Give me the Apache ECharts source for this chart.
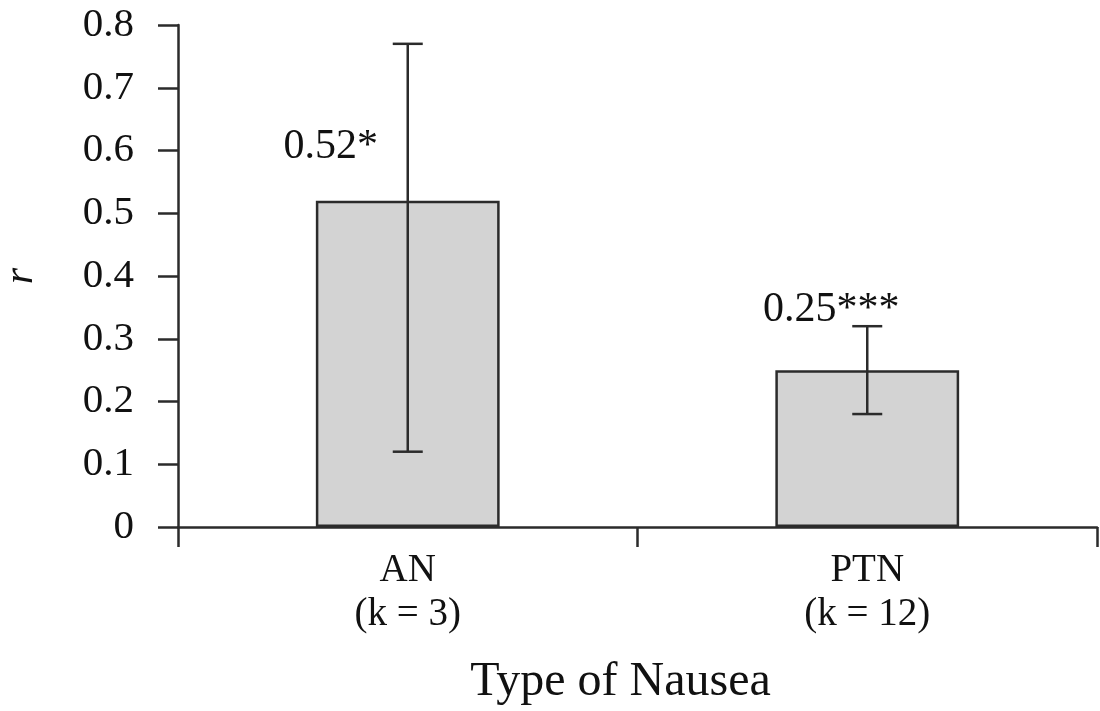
<!DOCTYPE html>
<html>
<head>
<meta charset="utf-8">
<script src="https://cdn.jsdelivr.net/npm/echarts@6/dist/echarts.min.js"></script>
<style>
  html, body { margin: 0; padding: 0; background: #fff; }
  #chart { width: 1100px; height: 711px; }
</style>
</head>
<body>
<div id="chart"></div>
<script>
const categories = ['AN\n(k = 3)', 'PTN\n(k = 12)'];
const rValues = [0.52, 0.25];
const ciLow = [0.12, 0.18];
const ciHigh = [0.77, 0.32];
const valueLabels = ['0.52*', '0.25***'];
const yTicks = [0, 0.1, 0.2, 0.3, 0.4, 0.5, 0.6, 0.7, 0.8];

const font = '"Liberation Serif", "DejaVu Serif", serif';
const ink = '#2b2b2b';
const labelOffsets = [[-77, -28], [-36, -34]];

const errorData = categories.map((c, i) => [i, ciLow[i], ciHigh[i]]);

const renderError = (params, api) => {
    const x = api.value(0);
    const lo = api.coord([x, api.value(1)]);
    const hi = api.coord([x, api.value(2)]);
    const half = 15;
    const style = { stroke: ink, lineWidth: 2.5 };
    return {
        type: 'group',
        children: [
            { type: 'line', shape: { x1: hi[0], y1: hi[1], x2: lo[0], y2: lo[1] }, style: style },
            { type: 'line', shape: { x1: hi[0] - half, y1: hi[1], x2: hi[0] + half, y2: hi[1] }, style: style },
            { type: 'line', shape: { x1: lo[0] - half, y1: lo[1], x2: lo[0] + half, y2: lo[1] }, style: style }
        ]
    };
};

const chart = echarts.init(document.getElementById('chart'));
chart.setOption({
    animation: false,
    backgroundColor: '#fff',
    grid: { left: 178, right: 3, top: 25, bottom: 184, outerBoundsMode: 'none', containLabel: false },
    xAxis: {
        type: 'category',
        data: categories,
        name: 'Type of Nausea',
        nameLocation: 'middle',
        nameGap: 131,
        nameTextStyle: { fontFamily: font, fontSize: 48, color: '#111', padding: [0, 34, 0, 0] },
        axisLine: { lineStyle: { color: ink, width: 2.5 } },
        axisTick: { show: true, length: 20, lineStyle: { color: ink, width: 2.5 } },
        axisLabel: { fontFamily: font, fontSize: 39, lineHeight: 44, color: '#111', margin: 22 }
    },
    yAxis: {
        type: 'value',
        min: 0,
        max: 0.8,
        interval: 0.1,
        name: 'r',
        nameLocation: 'middle',
        nameGap: 136,
        nameTextStyle: { fontFamily: font, fontSize: 42, fontStyle: 'italic', color: '#111' },
        splitLine: { show: false },
        axisLine: { show: true, lineStyle: { color: ink, width: 2.5 } },
        axisTick: { show: true, length: 20, lineStyle: { color: ink, width: 2.5 } },
        axisLabel: {
            fontFamily: font, fontSize: 41, color: '#111', margin: 44,
            formatter: (v) => {
                const t = yTicks.find(k => Math.abs(k - v) < 1e-9);
                return String(t === undefined ? v : t);
            }
        }
    },
    series: [
        {
            type: 'bar',
            barWidth: '40%',
            data: rValues.map((v, i) => ({
                value: v,
                label: {
                    show: true,
                    position: 'top',
                    offset: labelOffsets[i],
                    formatter: valueLabels[i],
                    fontFamily: font,
                    fontSize: 42,
                    color: '#111'
                }
            })),
            itemStyle: { color: '#d3d3d3', borderColor: ink, borderWidth: 2.5 }
        },
        {
            type: 'custom',
            renderItem: renderError,
            data: errorData,
            z: 5
        }
    ]
});
</script>
</body>
</html>
